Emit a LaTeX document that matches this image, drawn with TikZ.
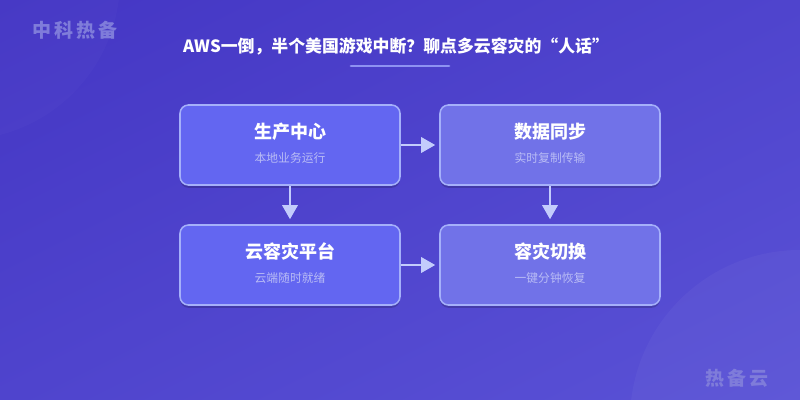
\documentclass[tikz,border=0pt]{standalone}
\usepackage{fontspec}
\setmainfont{Noto Sans CJK SC}
\newfontfamily\cjk{Noto Sans CJK SC}
\usetikzlibrary{arrows.meta,shadows,shadings}
\definecolor{bgA}{HTML}{4436C4}
\definecolor{bgB}{HTML}{5A52D6}
\definecolor{bgM}{HTML}{4F44CD}
\definecolor{boxL}{HTML}{6366F1}
\definecolor{boxR}{HTML}{7172E8}
\definecolor{boxEdge}{HTML}{A5B0FA}
\definecolor{arrowC}{HTML}{C3CCFC}
\definecolor{subC}{HTML}{B9BCF5}
\definecolor{wmC}{HTML}{7F7CDA}
\definecolor{lineC}{HTML}{8E92F2}
\tikzset{
  flowbox/.style={draw=boxEdge, line width=1.1pt, rounded corners=6pt,
    minimum width=220*0.025cm, minimum height=80*0.025cm, inner sep=0pt,
    drop shadow={shadow xshift=0pt, shadow yshift=-2pt, opacity=0.18, fill=black}},
  flowarrow/.style={draw=arrowC, line width=1.4pt, -{Triangle[length=10pt,width=11pt]}},
  boxtitle/.style={text=white, font=\cjk\bfseries\fontsize{12.8}{14}\selectfont},
  boxsub/.style={text=subC, font=\cjk\fontsize{8.4}{10}\selectfont},
  wm/.style={text=wmC, font=\cjk\bfseries\fontsize{13.5}{15}\selectfont}
}
\begin{document}
\begin{tikzpicture}[x=0.025cm,y=-0.025cm]
\useasboundingbox (0,0) rectangle (800,400);
\shade[upper left=bgA, lower right=bgB, upper right=bgM, lower left=bgM] (0,0) rectangle (800,400);
\begin{scope}
\clip (0,0) rectangle (800,400);
\fill[white, opacity=0.018] (-40,-20) circle (160);
\fill[white, opacity=0.035] (800,420) circle (170);
\end{scope}
\node[wm] (wm1) at (75,30) {中\,科\,热\,备};
\node[wm] (wm2) at (737,378) {热\,备\,云};
\node[text=white, font=\cjk\bfseries\fontsize{12.0}{14}\selectfont] (title) at (396,46) {AWS一倒，半个美国游戏中断？聊点多云容灾的“人话”};
\draw[lineC, line width=2pt, line cap=round] (351,66) -- (449,66);
\node[flowbox, fill=boxL] (b1) at (290,145) {};
\node[flowbox, fill=boxR] (b2) at (550,145) {};
\node[flowbox, fill=boxL] (b3) at (290,265) {};
\node[flowbox, fill=boxR] (b4) at (550,265) {};
\node[boxtitle] (t1) at (290,132) {生产中心};
\node[boxsub] (s1) at (290,158) {本地业务运行};
\node[boxtitle] (t2) at (550,132) {数据同步};
\node[boxsub] (s2) at (550,158) {实时复制传输};
\node[boxtitle] (t3) at (290,252) {云容灾平台};
\node[boxsub] (s3) at (290,278) {云端随时就绪};
\node[boxtitle] (t4) at (550,252) {容灾切换};
\node[boxsub] (s4) at (550,278) {一键分钟恢复};
\draw[flowarrow] (b1.east) -- ([xshift=-4*0.025cm]b2.west);
\draw[flowarrow] (b3.east) -- ([xshift=-4*0.025cm]b4.west);
\draw[flowarrow] (b1.south) -- ([yshift=5*0.025cm]b3.north);
\draw[flowarrow] (b2.south) -- ([yshift=5*0.025cm]b4.north);
\end{tikzpicture}
\end{document}
